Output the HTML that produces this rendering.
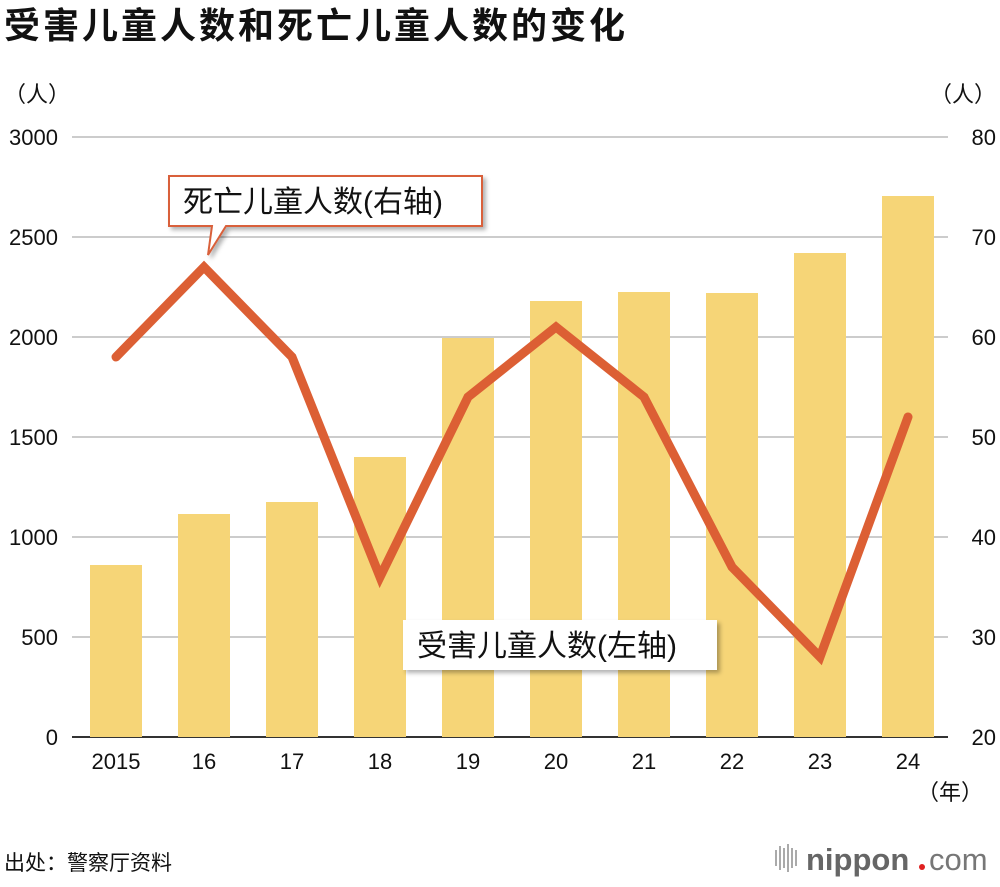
<!DOCTYPE html>
<html><head><meta charset="utf-8"><style>
body{margin:0;background:#fff;width:1000px;height:882px;overflow:hidden}
svg text{font-family:"Liberation Sans","Noto Sans CJK SC",sans-serif}
</style></head><body>
<svg id="c" width="1000" height="882" viewBox="0 0 1000 882">
<defs><filter id="sh" x="-10%" y="-20%" width="130%" height="160%"><feDropShadow dx="3" dy="3" stdDeviation="2" flood-color="#000" flood-opacity="0.3"/></filter></defs>
<text x="4" y="38" font-size="36" font-weight="bold" fill="#111" letter-spacing="3">受害儿童人数和死亡儿童人数的变化</text>
<text x="4" y="102" font-size="22" fill="#111">（人）</text>
<text x="996" y="102" font-size="22" fill="#111" text-anchor="end">（人）</text>
<g id="grid"></g><g id="bars"></g><g id="line"></g><g id="ticks"></g>
<g>
<path d="M169,176 H482 V226 H226 L208,255 L212,226 H169 Z" fill="#fff" stroke="#d9603a" stroke-width="2" filter="url(#sh)"/>
<text x="183" y="212" font-size="30" fill="#111">死亡儿童人数(右轴)</text>
</g>
<g>
<rect x="403" y="620" width="314" height="50" fill="#fff" filter="url(#sh)"/>
<text x="417" y="656" font-size="30" fill="#111">受害儿童人数(左轴)</text>
</g>
<text x="950" y="800" font-size="22" fill="#111" text-anchor="middle">（年）</text>
<text x="4" y="870" font-size="21" fill="#111">出处：警察厅资料</text>
<g>
<g fill="#aaa"><rect x="775" y="850" width="2" height="16"/><rect x="779" y="846" width="2" height="24"/><rect x="783" y="848" width="2" height="20"/><rect x="787" y="844" width="2" height="28"/><rect x="791" y="848" width="2" height="20"/><rect x="795" y="850" width="2" height="16"/></g>
<text x="806" y="870" font-size="31" font-weight="bold" fill="#666">nippon</text>
<circle cx="922" cy="867" r="3" fill="#e02020"/>
<text x="929" y="870" font-size="31" fill="#777">com</text>
</g>
</svg>
<script>
const years=["2015","16","17","18","19","20","21","22","23","24"];
const victims=[860,1115,1175,1400,1995,2180,2225,2220,2420,2705];
const deaths=[58,67,58,36,54,61,54,37,28,52];
const leftTicks=[0,500,1000,1500,2000,2500,3000];
const rightTicks=[20,30,40,50,60,70,80];
const NS="http://www.w3.org/2000/svg";
const y0=737,yTop=137;
const yL=v=>y0-(v/3000)*(y0-yTop);
const yR=v=>y0-((v-20)/60)*(y0-yTop);
const xC=i=>116+i*88;
function mk(t,a,p){const e=document.createElementNS(NS,t);for(const k in a)e.setAttribute(k,a[k]);p.appendChild(e);return e;}
const g=document.getElementById('grid'),b=document.getElementById('bars'),l=document.getElementById('line'),tk=document.getElementById('ticks');
leftTicks.forEach((v,i)=>{
 const ln=mk('line',{x1:72,x2:948,y1:yL(v),y2:yL(v),stroke:v===0?'#333':'#ccc','stroke-width':2},g);
 
 
 const t=mk('text',{x:58,y:yL(v)+8,'font-size':22,'text-anchor':'end',fill:'#111'},tk);t.textContent=v;
 
 
});
rightTicks.forEach(v=>{
 const t=mk('text',{x:996,y:yR(v)+8,'font-size':22,'text-anchor':'end',fill:'#111'},tk);t.textContent=v;
 
 
});
years.forEach((y,i)=>{
 const r=mk('rect',{x:xC(i)-26,y:yL(victims[i]),width:52,height:y0-yL(victims[i]),fill:'#f6d577'},b);
 
 
 const t=mk('text',{x:xC(i),y:769,'font-size':22,'text-anchor':'middle',fill:'#111'},tk);t.textContent=y;
 
 
});
const pl=mk('polyline',{points:deaths.map((d,i)=>xC(i)+','+yR(d)).join(' '),fill:'none',stroke:'#dc5f34','stroke-width':9,'stroke-linejoin':'miter','stroke-linecap':'round'},l);


</script>
</body></html>
